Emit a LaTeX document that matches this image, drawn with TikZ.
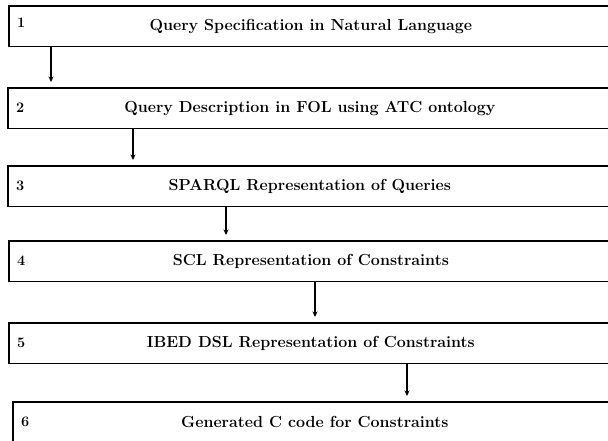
\documentclass[tikz,border=0pt]{standalone}
\usetikzlibrary{arrows.meta}
\begin{document}
\begin{tikzpicture}[x=1pt,y=-1pt,
    stepbox/.style={draw, line width=1.7pt, minimum width=604pt, minimum height=40.5pt,
      anchor=north west, inner sep=0pt, font=\fontsize{16}{19}\selectfont\bfseries},
    stepnum/.style={anchor=west, inner sep=0pt, font=\fontsize{14.5}{17}\selectfont\bfseries},
    flow/.style={-{Stealth[length=5.5pt,width=5pt]}, line width=1.3pt, shorten >=5pt}]
  \clip (0,0) rectangle (608,440);
  % the six steps (number of step / left / top / number shift / text)
  \foreach \i/\x/\y/\ns/\title in {1/8/5/3/Query Specification in Natural Language,
      2/7/87/0/Query Description in FOL using ATC ontology,
      3/7/165/0/SPARQL Representation of Queries,
      4/8/240/0/SCL Representation of Constraints,
      5/8/322/0/IBED DSL Representation of Constraints,
      6/12/401/0/Generated C code for Constraints} {
    \node[stepbox] (b\i) at (\x,\y) {\title};
    \node[stepnum] (n\i) at ([xshift=9pt,yshift=\ns pt]b\i.west) {\i};
  }
  % arrows between steps
  \foreach \i/\j/\ax in {1/2/51, 2/3/133, 3/4/226, 4/5/315, 5/6/407} {
    \coordinate (c\i) at (\ax,0);
    \draw[flow] (b\i.south -| c\i) -- (b\j.north -| c\i);
  }
\end{tikzpicture}
\end{document}
